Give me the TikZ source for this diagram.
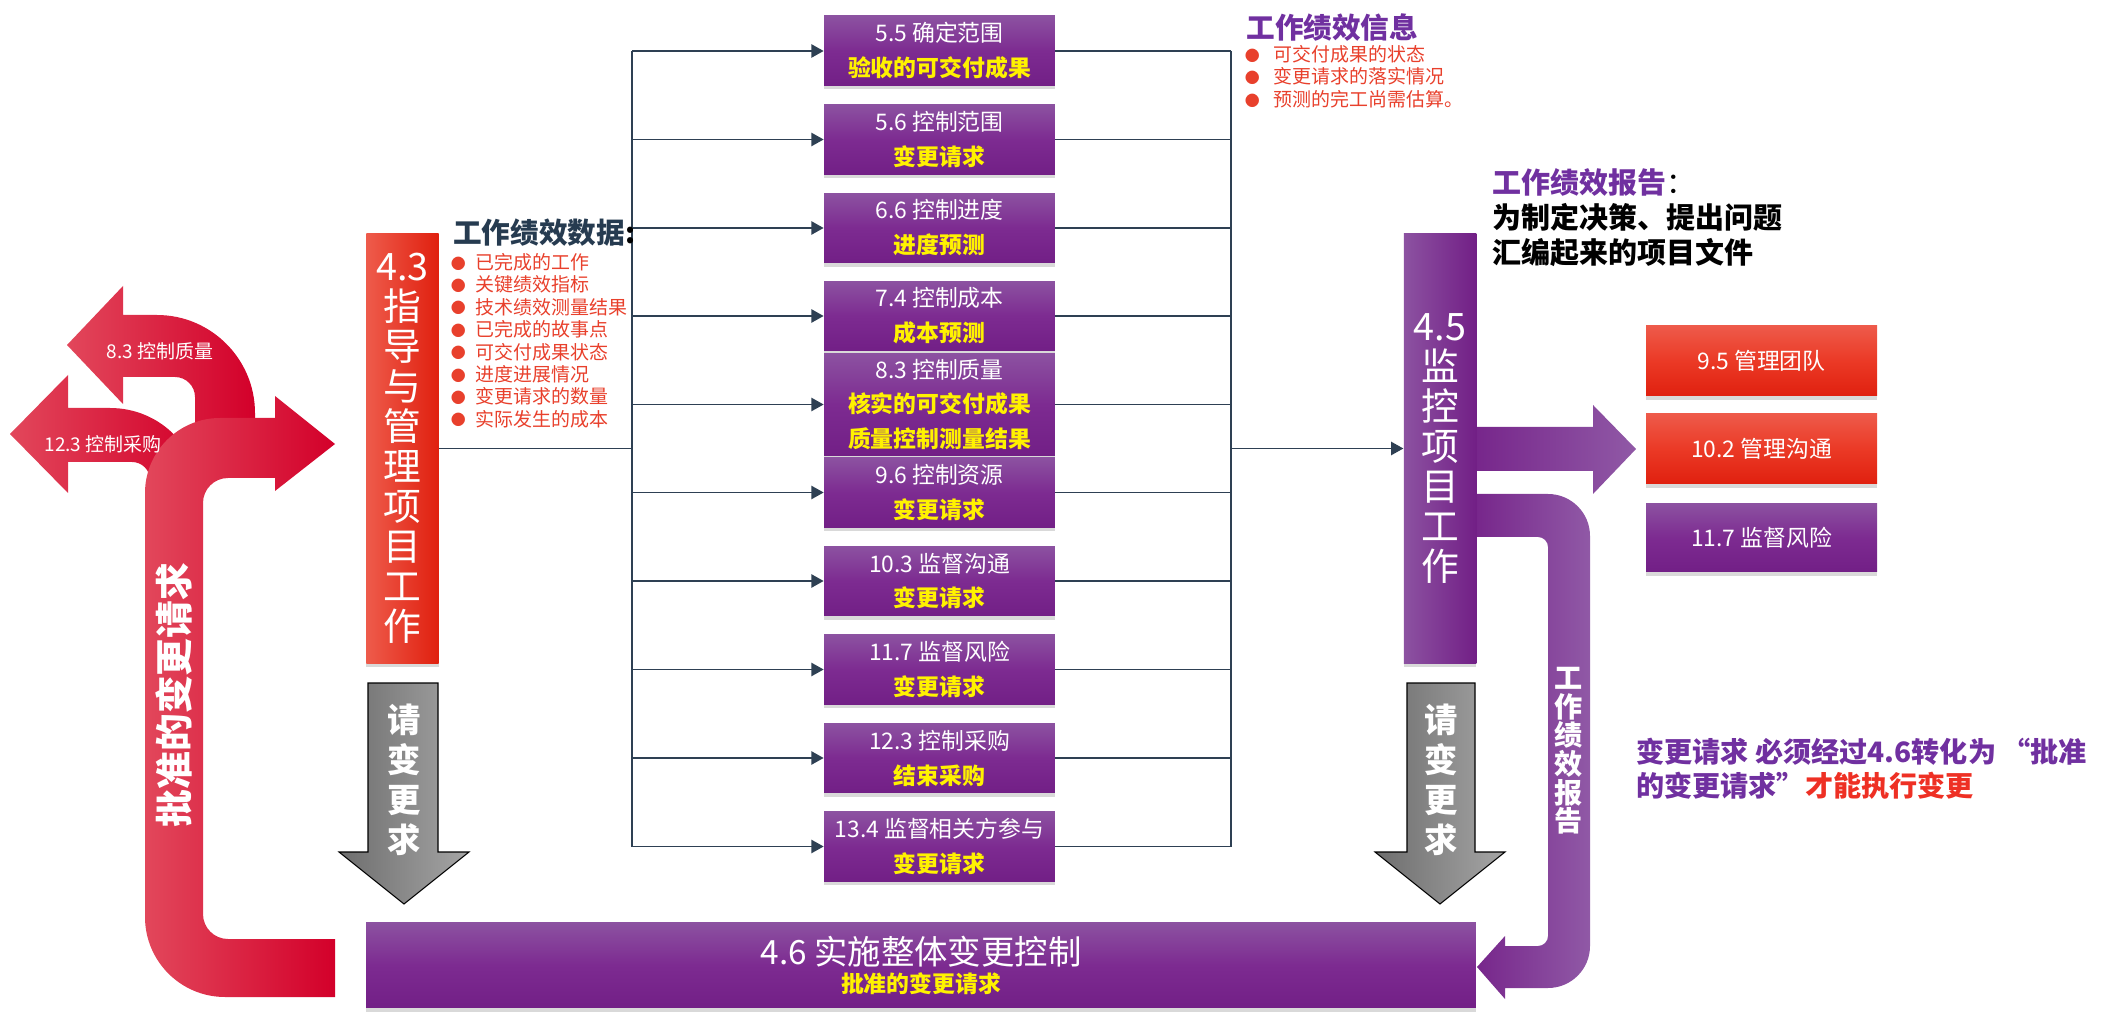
\documentclass[tikz,border=0pt]{standalone}
\usepackage{fontspec}
\setmainfont{Noto Sans CJK SC}
\usetikzlibrary{arrows.meta,shadows}
\definecolor{wireblue}{HTML}{2E4053}
\definecolor{titledark}{HTML}{263B50}
\definecolor{listred}{HTML}{E8402C}
\definecolor{notered}{HTML}{EE3024}
\definecolor{pmpurple}{HTML}{7030A0}
\definecolor{boxtop}{HTML}{8C52A1}
\definecolor{boxmid}{HTML}{7D2B91}
\definecolor{boxbot}{HTML}{721F86}
\definecolor{redtop}{HTML}{EE5B4B}
\definecolor{redmid}{HTML}{EB3A26}
\definecolor{redbot}{HTML}{E0200F}
\definecolor{crimsonlt}{HTML}{E2475B}
\definecolor{crimsondk}{HTML}{D3002A}
\definecolor{purplelt}{HTML}{9059A6}
\definecolor{purpledk}{HTML}{76248A}
\definecolor{graydk}{HTML}{6E6E6E}
\definecolor{graylt}{HTML}{A5A5A5}
\newcommand{\sz}[2]{\fontsize{#1}{#2}\selectfont}
\newcommand{\yl}[1]{{\bfseries\color{yellow}#1}}
\newcommand{\dotitem}[1][5.4pt]{\raisebox{0.2pt}{\sz{8.5}{8.5}●}\hspace{#1}}
\begin{document}
\begin{tikzpicture}[x=0.02cm,y=-0.02cm,
  wire/.style={draw=wireblue,line width=1.1pt},
  flow/.style={wire,-{Triangle[length=7pt,width=7.5pt]}},
  pbox/.style={top color=boxtop,bottom color=boxbot,middle color=boxmid,minimum width=4.62cm,minimum height=1.4cm,
    inner sep=0pt,align=center,text=white,font=\sz{13}{19.9},drop shadow={opacity=0.3,shadow xshift=0pt,shadow yshift=-2pt}},
  rbox/.style={pbox,top color=redtop,bottom color=redbot,middle color=redmid,minimum height=1.42cm},
  vbox/.style={minimum width=1.45cm,minimum height=8.62cm,inner sep=0pt,align=center,text=white,font=\sz{21.5}{22.8},
    drop shadow={opacity=0.3,shadow xshift=0pt,shadow yshift=-2pt}},
  crimson/.style={left color=crimsonlt,right color=crimsondk},
  purplearr/.style={left color=purpledk,right color=purplelt},
  grayarr/.style={left color=graydk,right color=graylt,draw=black,line width=0.6pt},
  vtext/.style={inner sep=0pt,align=center,text=white,font=\sz{19}{22.8}\bfseries}]
\useasboundingbox (0,0) rectangle (2126,1026);

\shade[crimson] (67,345) -- (123,286) -- (123,315) -- (157,315) .. controls (211,315) and (255,359) .. (255,413) -- (255,440)
  -- (195,440) -- (195,397) .. controls (195,386) and (186,377) .. (175,377) -- (123,377) -- (123,404) -- cycle;
\shade[crimson] (10,434) -- (68,375) -- (68,408) -- (110,408) .. controls (160,408) and (200,448) .. (200,498) -- (200,540)
  -- (150,540) -- (150,480) .. controls (150,470) and (142,462) .. (132,462) -- (68,462) -- (68,493) -- cycle;
\shade[crimson] (335,939) -- (228,939) .. controls (214.2,939) and (203,927.8) .. (203,914) -- (203,503)
  .. controls (203,489.2) and (214.2,478) .. (228,478) -- (275,478) -- (275,491) -- (335,444) -- (275,396) -- (275,418)
  -- (220,418) .. controls (178.6,418) and (145,451.6) .. (145,493) -- (145,917)
  .. controls (145,961.2) and (180.8,997) .. (225,997) -- (335,997) -- cycle;
\node[font=\sz{10.8}{10.8},text=white] (lq) at (160,351) {8.3 控制质量};
\node[font=\sz{10.8}{10.8},text=white] (lp) at (103,444) {12.3 控制采购};
\node[rotate=90,font=\sz{21.5}{21.5}\bfseries,text=white] (apr) at (174,695) {批准的变更请求};

\shade[purplearr] (1469,427) -- (1593,427) -- (1593,405) -- (1636,449) -- (1593,494) -- (1593,471) -- (1469,471) -- cycle;
\shade[purplearr] (1471,494) -- (1548,494) .. controls (1571.2,494) and (1590,512.8) .. (1590,536) -- (1590,946)
  .. controls (1590,969.2) and (1571.2,988) .. (1548,988) -- (1505,988) -- (1505,999) -- (1477,967) -- (1505,936) -- (1505,946)
  -- (1538,946) .. controls (1543.5,946) and (1548,941.5) .. (1548,936) -- (1548,547)
  .. controls (1548,541.5) and (1543.5,537) .. (1538,537) -- (1471,537) -- cycle;
\node[vtext,font=\sz{16}{16.3}\bfseries] (rptl) at (1569,751) {工\\作\\绩\\效\\报\\告};

\draw[grayarr] (368,683) -- (438,683) -- (438,852) -- (469,852) -- (404,904) -- (339,852) -- (368,852) -- cycle;
\draw[grayarr] (1407,683) -- (1475,683) -- (1475,852) -- (1505,852) -- (1440,904) -- (1375,852) -- (1407,852) -- cycle;
\node[vtext] (rql) at (404,780) {请\\变\\更\\求};
\node[vtext] (rqr) at (1441,780) {请\\变\\更\\求};

\node[vbox,left color=redtop,right color=redbot] (dmw) at (402.5,448.5) {4.3\\指\\导\\与\\管\\理\\项\\目\\工\\作};
\node[vbox,left color=boxtop,right color=boxbot] (mpw) at (1440,448.5) {4.5\\监\\控\\项\\目\\工\\作};

\node[pbox] (b1) at (939.5,51) {5.5 确定范围\\\yl{验收的可交付成果}};
\node[pbox] (b2) at (939.5,139.5) {5.6 控制范围\\\yl{变更请求}};
\node[pbox] (b3) at (939.5,228) {6.6 控制进度\\\yl{进度预测}};
\node[pbox] (b4) at (939.5,316) {7.4 控制成本\\\yl{成本预测}};
\node[pbox,minimum height=2.06cm] (b5) at (939.5,404.5) {8.3 控制质量\\\yl{核实的可交付成果}\\\yl{质量控制测量结果}};
\node[pbox] (b6) at (939.5,492.5) {9.6 控制资源\\\yl{变更请求}};
\node[pbox] (b7) at (939.5,581) {10.3 监督沟通\\\yl{变更请求}};
\node[pbox] (b8) at (939.5,669.5) {11.7 监督风险\\\yl{变更请求}};
\node[pbox] (b9) at (939.5,758) {12.3 控制采购\\\yl{结束采购}};
\node[pbox] (b10) at (939.5,846.5) {13.4 监督相关方参与\\\yl{变更请求}};

\node[pbox,minimum width=22.2cm,minimum height=1.72cm,font=\sz{19}{19}] (icc) at (921,965)
  {4.6 实施整体变更控制\\[-3pt]\sz{13}{13}\yl{批准的变更请求}};

\node[rbox] (r1) at (1761.5,360.5) {9.5 管理团队};
\node[rbox] (r2) at (1761.5,448.5) {10.2 管理沟通};
\node[pbox,minimum height=1.38cm] (r3) at (1761.5,537.5) {11.7 监督风险};

\coordinate (busl) at (632,0);
\coordinate (busr) at (1231,0);
\draw[wire] (b1.west -| busl) -- (b10.west -| busl);
\draw[wire] (b1.east -| busr) -- (b10.east -| busr);
\draw[wire] (dmw.east) -- (dmw.east -| busl);
\draw[flow] (b1.west -| busl) -- (b1.west);
\draw[flow] (b2.west -| busl) -- (b2.west);
\draw[flow] (b3.west -| busl) -- (b3.west);
\draw[flow] (b4.west -| busl) -- (b4.west);
\draw[flow] (b5.west -| busl) -- (b5.west);
\draw[flow] (b6.west -| busl) -- (b6.west);
\draw[flow] (b7.west -| busl) -- (b7.west);
\draw[flow] (b8.west -| busl) -- (b8.west);
\draw[flow] (b9.west -| busl) -- (b9.west);
\draw[flow] (b10.west -| busl) -- (b10.west);
\draw[wire] (b1.east) -- (b1.east -| busr);
\draw[wire] (b2.east) -- (b2.east -| busr);
\draw[wire] (b3.east) -- (b3.east -| busr);
\draw[wire] (b4.east) -- (b4.east -| busr);
\draw[wire] (b5.east) -- (b5.east -| busr);
\draw[wire] (b6.east) -- (b6.east -| busr);
\draw[wire] (b7.east) -- (b7.east -| busr);
\draw[wire] (b8.east) -- (b8.east -| busr);
\draw[wire] (b9.east) -- (b9.east -| busr);
\draw[wire] (b10.east) -- (b10.east -| busr);
\draw[flow] (mpw.west -| busr) -- (mpw.west);

\node[anchor=west,inner sep=0pt,font=\sz{16.3}{16.3}\bfseries,text=titledark] (wpd) at (453,233) {工作绩效数据\textcolor{black}{:}};
\node[anchor=north west,inner sep=0pt,align=left,font=\sz{10.8}{12.75},text=listred] (wpdl) at (450.5,253)
  {\dotitem 已完成的工作\\\dotitem 关键绩效指标\\\dotitem 技术绩效测量结果\\\dotitem 已完成的故事点\\
   \dotitem 可交付成果状态\\\dotitem 进度进展情况\\\dotitem 变更请求的数量\\\dotitem 实际发生的成本};
\node[anchor=west,inner sep=0pt,font=\sz{16.3}{16.3}\bfseries,text=pmpurple] (wpi) at (1246,28) {工作绩效信息};
\node[anchor=north west,inner sep=0pt,align=left,font=\sz{10.8}{12.8},text=listred] (wpil) at (1244.5,45)
  {\dotitem[7.7pt]可交付成果的状态\\\dotitem[7.7pt]变更请求的落实情况\\\dotitem[7.7pt]预测的完工尚需估算。};
\node[anchor=north west,inner sep=0pt,align=left,font=\sz{16.5}{19.9}\bfseries] (wpr) at (1492,168)
  {\textcolor{pmpurple}{工作绩效报告}{\mdseries ：}\\为制定决策、提出问题\\汇编起来的项目文件};
\node[anchor=north west,inner sep=0pt,align=left,font=\sz{16}{19.4}\bfseries,text=pmpurple] (note) at (1636,738)
  {变更请求 必须经过4.6转化为 “批准\\的变更请求”\textcolor{notered}{才能执行变更}};
\end{tikzpicture}
\end{document}
